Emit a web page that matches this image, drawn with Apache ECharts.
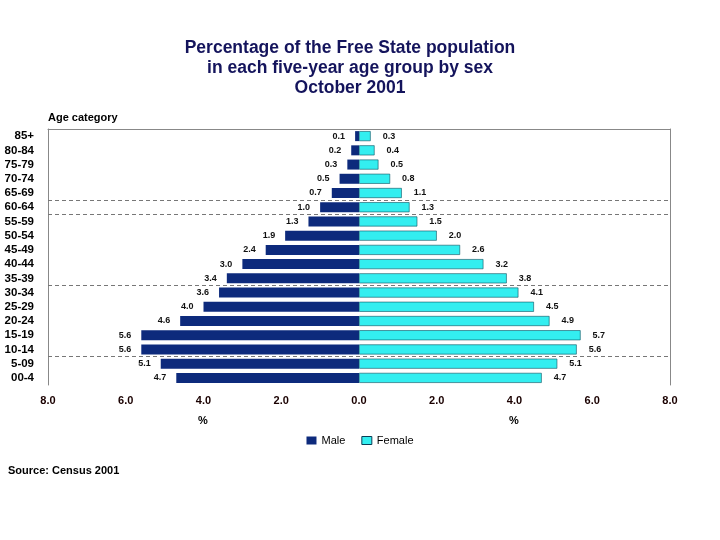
<!DOCTYPE html>
<html>
<head>
<meta charset="utf-8">
<script src="https://cdn.jsdelivr.net/npm/echarts@6/dist/echarts.min.js"></script>
<style>
  html, body { margin: 0; padding: 0; background: #fff; }
  #chart { width: 720px; height: 540px; }
</style>
</head>
<body>
<div id="chart"></div>
<script>
var ageGroups = ['85+', '80-84', '75-79', '70-74', '65-69', '60-64', '55-59', '50-54', '45-49',
	'40-44', '35-39', '30-34', '25-29', '20-24', '15-19', '10-14', '5-09', '00-4'];
var maleValues = [0.1, 0.2, 0.3, 0.5, 0.7, 1.0, 1.3, 1.9, 2.4, 3.0, 3.4, 3.6, 4.0, 4.6, 5.6, 5.6, 5.1, 4.7];
var femaleValues = [0.3, 0.4, 0.5, 0.8, 1.1, 1.3, 1.5, 2.0, 2.6, 3.2, 3.8, 4.1, 4.5, 4.9, 5.7, 5.6, 5.1, 4.7];
// row boundaries (counted from the top) where dashed separators are drawn
var separators = [5, 6, 11, 16];

var font = 'Liberation Sans, Arial, sans-serif';
var maleColor = '#0d2a7c';
var femaleColor = '#33eef0';

var chart = echarts.init(document.getElementById('chart'));

chart.setOption({
	animation: false,
	title: {
		text: 'Percentage of the Free State population\nin each five-year age group by sex\nOctober 2001',
		left: 345,
		textAlign: 'center',
		top: 33,
		textStyle: {
			fontFamily: font,
			fontSize: 17.5,
			fontWeight: 'bold',
			color: '#14145c',
			lineHeight: 20
		}
	},
	legend: {
		bottom: 89,
		left: 'center',
		icon: 'rect',
		itemWidth: 10,
		itemHeight: 8,
		itemGap: 16,
		textStyle: { fontFamily: font, fontSize: 11, color: '#000' },
		data: [
			{ name: 'Male', itemStyle: { color: maleColor, borderWidth: 0 } },
			{ name: 'Female', itemStyle: { color: femaleColor, borderColor: '#0b3d55', borderWidth: 1 } }
		]
	},
	grid: { left: 48, right: 50, top: 129, bottom: 155 },
	xAxis: [{
		type: 'value',
		min: -8,
		max: 8,
		interval: 2,
		axisLine: { show: false },
		axisTick: { show: false },
		splitLine: { show: false },
		axisLabel: {
			margin: 10,
			fontFamily: font,
			fontSize: 11,
			fontWeight: 'bold',
			color: '#1a0000',
			formatter: function (v) { return Math.abs(v).toFixed(1); }
		}
	}, {
		type: 'value',
		position: 'top',
		min: -8,
		max: 8,
		axisLine: { show: true, onZero: false, lineStyle: { color: '#888', width: 1 } },
		axisTick: { show: false },
		axisLabel: { show: false },
		splitLine: { show: false }
	}],
	yAxis: [{
		type: 'category',
		inverse: true,
		data: ageGroups,
		name: 'Age category',
		nameLocation: 'start',
		nameGap: 6,
		nameTextStyle: {
			fontFamily: font, fontSize: 11, fontWeight: 'bold', color: '#000',
			align: 'left', padding: [0, 0, 0, 0]
		},
		axisLine: { show: true, onZero: false, lineStyle: { color: '#888', width: 1 } },
		axisTick: { show: false },
		axisLabel: {
			interval: 0,
			margin: 14,
			fontFamily: font,
			fontSize: 11.5,
			fontWeight: 'bold',
			color: '#000'
		}
	}, {
		type: 'value',
		inverse: true,
		min: 0,
		max: ageGroups.length,
		position: 'right',
		axisLine: { show: true, onZero: false, lineStyle: { color: '#888', width: 1 } },
		axisTick: { show: false },
		axisLabel: { show: false },
		splitLine: { show: false }
	}],
	graphic: [
		{ type: 'text', left: 198, top: 415, style: { text: '%', font: 'bold 11px ' + font, fill: '#000' } },
		{ type: 'text', left: 509, top: 415, style: { text: '%', font: 'bold 11px ' + font, fill: '#000' } },
		{ type: 'text', left: 8, top: 465, style: { text: 'Source: Census 2001', font: 'bold 11px ' + font, fill: '#000' } }
	],
	series: [{
		name: 'Male',
		type: 'bar',
		stack: 'pop',
		barWidth: 10,
		itemStyle: { color: maleColor },
		label: {
			show: true,
			position: 'left',
			distance: 10,
			fontFamily: font,
			fontSize: 9,
			fontWeight: 'bold',
			color: '#111',
			formatter: function (p) { return Math.abs(p.value).toFixed(1); }
		},
		data: maleValues.map(function (v) { return -v; })
	}, {
		name: 'Female',
		type: 'bar',
		stack: 'pop',
		barWidth: 10,
		itemStyle: { color: femaleColor, borderColor: '#0b5060', borderWidth: 0.6 },
		label: {
			show: true,
			position: 'right',
			distance: 12,
			fontFamily: font,
			fontSize: 9,
			fontWeight: 'bold',
			color: '#111',
			formatter: function (p) { return p.value.toFixed(1); }
		},
		data: femaleValues
	}, {
		name: 'separators',
		type: 'line',
		yAxisIndex: 1,
		data: [],
		silent: true,
		markLine: {
			symbol: 'none',
			silent: true,
			label: { show: false },
			lineStyle: { color: '#777', type: [4, 3], width: 1 },
			data: separators.map(function (s) { return { yAxis: s }; })
		}
	}]
});
</script>
</body>
</html>
